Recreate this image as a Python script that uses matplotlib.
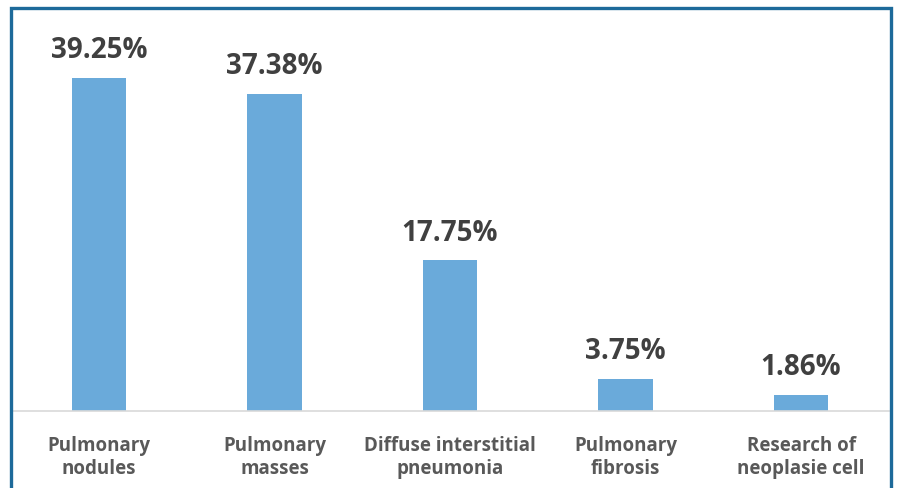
import matplotlib
matplotlib.use("Agg")
import matplotlib.pyplot as plt
from matplotlib.patches import Rectangle

categories = ["Pulmonary\nnodules", "Pulmonary\nmasses", "Diffuse interstitial\npneumonia",
              "Pulmonary\nfibrosis", "Research of\nneoplasie cell"]
values = [39.25, 37.38, 17.75, 3.75, 1.86]
value_labels = ["39.25%", "37.38%", "17.75%", "3.75%", "1.86%"]

W, H = 897, 489
fig = plt.figure(figsize=(W / 100, H / 100), dpi=100)
fig.patch.set_facecolor("white")

ax = fig.add_axes([11.25 / W, 77 / H, 877.5 / W, 404 / H])
x = list(range(len(values)))
ax.bar(x, values, width=0.313, color="#6AAADA", zorder=2)
ax.set_xlim(-0.5, 4.5)
ax.set_ylim(0, 404 / 8.48)

for xi, v, lab in zip(x, values, value_labels):
    ax.annotate(lab, (xi, v), xytext=(0, 10), textcoords="offset points",
                ha="center", va="bottom", fontsize=20, fontweight="bold",
                color="#404040", family="Open Sans")

for s in ["top", "right", "left"]:
    ax.spines[s].set_visible(False)
ax.spines["bottom"].set_color("#D9D9D9")
ax.spines["bottom"].set_linewidth(1.2)
ax.set_yticks([])
ax.set_xticks(x)
ax.set_xticklabels(categories, fontsize=13.5, fontweight="bold", color="#595959",
                   family="Open Sans", linespacing=1.25)
ax.tick_params(axis="x", length=0, pad=17)
ax.patch.set_visible(False)

frame = Rectangle((11 / W, -0.05), 880 / W, 1.05 - 9 / H, transform=fig.transFigure,
                  fill=False, edgecolor="#1D6A9A", linewidth=2.4, clip_on=False)
fig.patches.append(frame)

fig.savefig("out.png", dpi=100)
